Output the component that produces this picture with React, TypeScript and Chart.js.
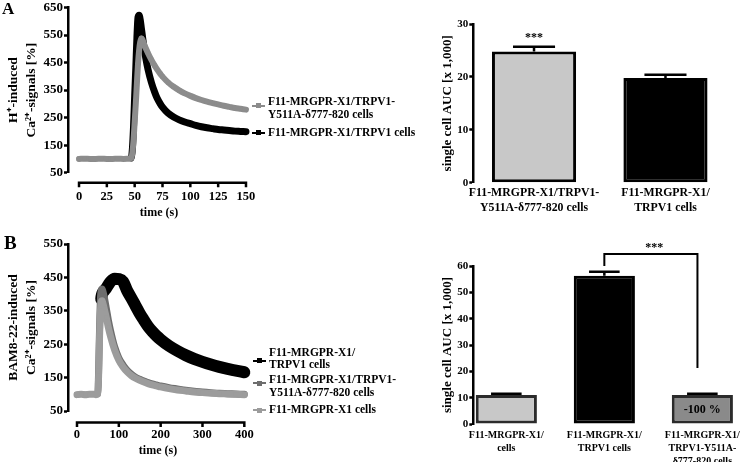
import React, { useEffect, useRef } from "react";
import { Chart, registerables } from "chart.js";
Chart.register(...registerables);

const SERIF = "'Liberation Serif', 'Times New Roman', serif";

// ---------- Panel A: H+-induced Ca2+ signals ----------
const timeA = [0, 5, 10, 15, 20, 25, 30, 35, 40, 45, 47, 48, 49, 50, 51, 52, 53, 54, 55, 56, 57, 58, 60, 62, 65, 68, 70, 73, 75, 80, 85, 90, 95, 100, 105, 110, 115, 120, 125, 130, 135, 140, 145, 150];
const mutantA = [100, 101, 100, 100, 101, 100, 100, 101, 100, 101, 103, 125, 170, 235, 300, 375, 445, 495, 525, 538, 533, 522, 502, 484, 460, 439, 426, 409, 399, 378, 362, 349, 338, 329, 321, 314, 308, 303, 298, 293, 289, 285, 282, 279];
const trpv1A = [100, 100, 101, 100, 100, 101, 100, 100, 101, 102, 104, 140, 220, 330, 430, 540, 615, 622, 605, 575, 545, 515, 465, 425, 378, 342, 322, 300, 288, 266, 252, 242, 234, 228, 222, 217, 213, 210, 207, 205, 203, 201, 200, 199];
const xTicksA = [0, 25, 50, 75, 100, 125, 150];

// ---------- Panel A: AUC bars ----------
const barALabels = [["F11-MRGPR-X1/TRPV1-", "Y511A-δ777-820 cells"], ["F11-MRGPR-X1/", "TRPV1 cells"]];
const barAValues = [24.8, 19.8];
const barAErrors = [0.9, 0.6];

// ---------- Panel B: BAM8-22-induced Ca2+ signals ----------
const timeB = [0, 10, 20, 30, 40, 45, 50, 52, 54, 56, 58, 60, 62, 65, 70, 75, 80, 90, 100, 110, 120, 130, 140, 150, 160, 170, 180, 190, 200, 220, 240, 260, 280, 300, 320, 340, 360, 380, 400];
const trpv1B = [100, 100, 101, 100, 101, 102, 103, 170, 260, 340, 385, 400, 405, 410, 418, 428, 437, 446, 445, 438, 410, 388, 365, 342, 322, 303, 288, 275, 264, 245, 230, 217, 206, 197, 189, 182, 176, 171, 166];
const mutantB = [100, 101, 100, 101, 100, 101, 103, 190, 300, 385, 412, 415, 408, 392, 358, 322, 292, 242, 209, 188, 172, 160, 151, 145, 140, 135, 131, 128, 125, 120, 116, 112, 109, 107, 105, 103, 102, 101, 100];
const controlB = [99, 100, 99, 100, 100, 99, 101, 170, 275, 350, 376, 380, 372, 357, 330, 300, 274, 232, 202, 182, 167, 156, 148, 142, 137, 132, 128, 125, 122, 117, 113, 110, 107, 105, 103, 102, 101, 100, 99];
const xTicksB = [0, 100, 200, 300, 400];

// ---------- Panel B: AUC bars ----------
const barBLabels = [["F11-MRGPR-X1/", "cells"], ["F11-MRGPR-X1/", "TRPV1 cells"], ["F11-MRGPR-X1/", "TRPV1-Y511A-", "δ777-820 cells"]];
const barBValues = [11.0, 56.3, 11.0];
const barBErrors = [0.5, 1.5, 0.5];

const GRAY_A = "#8c8c8c";
const DARK_B = "#6e6e6e";
const LIGHT_B = "#9c9c9c";

const font = (size: number, lineHeight = 1.2) => ({ family: SERIF, size, weight: "bold" as const, lineHeight });

function offsetXAxis(tickValues: number[], gap: number) {
  return {
    id: "offsetXAxis",
    afterDatasetsDraw(chart: any) {
      const ctx = chart.ctx;
      const area = chart.chartArea;
      const xs = chart.scales.x;
      const yy = area.bottom + gap;
      const x0 = xs.getPixelForValue(tickValues[0]);
      const x1 = xs.getPixelForValue(tickValues[tickValues.length - 1]);
      ctx.save();
      ctx.strokeStyle = "#000";
      ctx.lineWidth = 2.5;
      ctx.beginPath();
      ctx.moveTo(x0 - 1.25, yy);
      ctx.lineTo(x1 + 1.25, yy);
      for (const t of tickValues) {
        const px = xs.getPixelForValue(t);
        ctx.moveTo(px, yy);
        ctx.lineTo(px, yy + 4.5);
      }
      ctx.stroke();
      ctx.restore();
    },
  };
}

function errorBars(values: number[], errors: number[]) {
  return {
    id: "errorBars",
    afterDatasetsDraw(chart: any) {
      const { ctx, scales } = chart;
      const meta = chart.getDatasetMeta(0);
      ctx.save();
      ctx.strokeStyle = "#000";
      ctx.lineWidth = 2.5;
      meta.data.forEach((bar: any, i: number) => {
        const top = scales.y.getPixelForValue(values[i] + errors[i]);
        const base = scales.y.getPixelForValue(values[i]);
        const half = bar.width / 4;
        ctx.beginPath();
        ctx.moveTo(bar.x, base);
        ctx.lineTo(bar.x, top);
        ctx.moveTo(bar.x - half, top);
        ctx.lineTo(bar.x + half, top);
        ctx.stroke();
      });
      ctx.restore();
    },
  };
}

type Note = { x: number; y: number; text: string; size: number };
function notes(items: Note[], bracket?: number[][]) {
  return {
    id: "notes",
    afterDatasetsDraw(chart: any) {
      const { ctx, scales } = chart;
      ctx.save();
      if (bracket) {
        ctx.strokeStyle = "#000";
        ctx.lineWidth = 2;
        ctx.beginPath();
        bracket.forEach(([bx, by], i) => {
          const px = scales.x.getPixelForValue(bx);
          const py = scales.y.getPixelForValue(by);
          if (i === 0) ctx.moveTo(px, py);
          else ctx.lineTo(px, py);
        });
        ctx.stroke();
      }
      ctx.fillStyle = "#000";
      ctx.textAlign = "center";
      ctx.textBaseline = "middle";
      items.forEach((n) => {
        ctx.font = `bold ${n.size}px ${SERIF}`;
        ctx.fillText(n.text, scales.x.getPixelForValue(n.x), scales.y.getPixelForValue(n.y));
      });
      ctx.restore();
    },
  };
}

const yAxisCommon = (width: number) => ({
  afterFit: (s: any) => {
    s.width = width;
  },
  grid: { display: true, drawOnChartArea: false, drawTicks: true, tickLength: 4, tickWidth: 2.5, tickColor: "#000" },
  border: { display: true, width: 2.5, color: "#000" },
});

const baseOptions = {
  animation: false,
  responsive: false,
  devicePixelRatio: 1,
};

function lineConfig(
  datasets: any[],
  tickValues: number[],
  xmin: number,
  xmax: number,
  ymin: number,
  ymax: number,
  padding: any,
  yTitle: string[],
  gap: number
) {
  return {
    type: "line",
    data: { datasets },
    options: {
      ...baseOptions,
      layout: { padding },
      plugins: { legend: { display: false }, tooltip: { enabled: false } },
      scales: {
        x: {
          type: "linear",
          min: xmin,
          max: xmax,
          afterBuildTicks: (s: any) => {
            s.ticks = tickValues.map((v) => ({ value: v }));
          },
          afterFit: (s: any) => {
            s.height = 50;
          },
          grid: { display: false, drawTicks: false },
          border: { display: false },
          ticks: { padding: 16.5, font: font(12.5), color: "#000", maxRotation: 0, minRotation: 0, autoSkip: false },
          title: { display: true, text: "time (s)", font: font(12), color: "#000", padding: { top: 0, bottom: 2.5 } },
        },
        y: {
          min: ymin,
          max: ymax,
          ...yAxisCommon(68),
          ticks: { stepSize: 100, font: font(13, 1), color: "#000", padding: 1 },
          title: { display: true, text: yTitle, font: font(13.5, 1.36), color: "#000", padding: { top: 4, bottom: 0 } },
        },
      },
    },
    plugins: [offsetXAxis(tickValues, gap)],
  };
}

function lineDataset(
  times: number[],
  values: number[],
  color: string,
  width: number,
  baseWidth: number,
  riseEnd: number,
  order: number
) {
  return {
    data: times.map((t, i) => ({ x: t, y: values[i] })),
    borderColor: color,
    backgroundColor: color,
    borderWidth: width,
    segment: {
      borderWidth: (c: any) => (c.p0.parsed.x < riseEnd ? baseWidth : width),
    },
    pointStyle: "rect",
    pointRadius: 3,
    pointBorderWidth: 0,
    cubicInterpolationMode: "monotone",
    borderJoinStyle: "round",
    borderCapStyle: "round",
    order,
    clip: false,
  };
}

function barConfig(
  labels: string[][],
  values: number[],
  errors: number[],
  fills: string[],
  borders: string[],
  xmin: number,
  xmax: number,
  ymax: number,
  padding: any,
  labelFont: any,
  labelPad: number,
  xHeight: number,
  barPct: number,
  extra: any
) {
  return {
    type: "bar",
    data: {
      datasets: [
        {
          data: values.map((v, i) => ({ x: i + 1, y: v })),
          backgroundColor: fills,
          borderColor: borders,
          borderWidth: 3,
          borderSkipped: false,
          categoryPercentage: 0.8,
          barPercentage: barPct,
        },
      ],
    },
    options: {
      ...baseOptions,
      layout: { padding },
      plugins: { legend: { display: false }, tooltip: { enabled: false } },
      scales: {
        x: {
          type: "linear",
          offset: false,
          min: xmin,
          max: xmax,
          afterBuildTicks: (s: any) => {
            s.ticks = labels.map((_, i) => ({ value: i + 1 }));
          },
          afterFit: (s: any) => {
            s.height = xHeight;
          },
          grid: { display: false, drawTicks: false, offset: false },
          border: { display: false },
          ticks: {
            callback: (_v: any, i: number) => labels[i],
            font: labelFont,
            color: "#000",
            padding: labelPad,
            maxRotation: 0,
            minRotation: 0,
            autoSkip: false,
          },
        },
        y: {
          min: 0,
          max: ymax,
          ...yAxisCommon(40),
          ticks: { stepSize: 10, font: font(11, 1), color: "#000", padding: 1 },
          title: { display: true, text: "single cell AUC [x 1,000]", font: font(13), color: "#000", padding: { top: 6.5, bottom: 0 } },
        },
      },
    },
    plugins: [errorBars(values, errors), extra],
  };
}

function ChartCanvas({ make }: { make: () => any }) {
  const ref = useRef<HTMLCanvasElement>(null);
  useEffect(() => {
    const chart = new Chart(ref.current as HTMLCanvasElement, make());
    return () => chart.destroy();
  }, []);
  return (
    <canvas
      ref={ref}
      width={745}
      height={464}
      style={{ position: "absolute", left: 0, top: 0, width: 745, height: 464 }}
    />
  );
}

function Marker({ x, y, color }: { x: number; y: number; color: string }) {
  return (
    <>
      <div style={{ position: "absolute", left: x, top: y - 1, width: 13, height: 2, background: color }} />
      <div style={{ position: "absolute", left: x + 4, top: y - 2.5, width: 5, height: 5, background: color }} />
    </>
  );
}

function Text({ x, y, lines, size, lh }: { x: number; y: number; lines: string[]; size: number; lh: number }) {
  return (
    <div
      style={{
        position: "absolute",
        left: x,
        top: y - lh / 2,
        font: `bold ${size}px ${SERIF}`,
        lineHeight: `${lh}px`,
        whiteSpace: "nowrap",
        color: "#000",
      }}
    >
      {lines.map((l, i) => (
        <div key={i}>{l}</div>
      ))}
    </div>
  );
}

export default function App() {
  const makeLineA = () =>
    lineConfig(
      [lineDataset(timeA, mutantA, GRAY_A, 6, 6, 0, 1), lineDataset(timeA, trpv1A, "#000", 7, 4, 47, 2)],
      xTicksA,
      -9.9,
      153.6,
      50,
      650,
      { left: 0, top: 6.7, right: 495, bottom: 241.3 },
      ["H⁺-induced", "Ca²⁺-signals [%]"],
      10
    );
  const makeLineB = () =>
    lineConfig(
      [
        lineDataset(timeB, controlB, LIGHT_B, 7, 7, 0, 1),
        lineDataset(timeB, mutantB, DARK_B, 7, 5, 50, 2),
        lineDataset(timeB, trpv1B, "#000", 12, 4, 58, 3),
      ],
      xTicksB,
      -21.5,
      408.8,
      50,
      550,
      { left: 0, top: 244, right: 497, bottom: 3 },
      ["BAM8-22-induced", "Ca²⁺-signals [%]"],
      11.5
    );
  const makeBarA = () =>
    barConfig(
      barALabels,
      barAValues,
      barAErrors,
      ["#c8c8c8", "#000"],
      ["#000", "#000"],
      0.538,
      2.567,
      30,
      { left: 433.3, top: 24, right: 5, bottom: 241.3 },
      font(11.8, 1.27),
      3,
      40,
      0.8,
      notes([{ x: 1, y: 27.3, text: "***", size: 12 }])
    );
  const makeBarB = () =>
    barConfig(
      barBLabels,
      barBValues,
      barBErrors,
      ["#c8c8c8", "#000", "#8a8a8a"],
      ["#2b2b2b", "#000", "#2b2b2b"],
      0.663,
      3.353,
      60,
      { left: 433.3, top: 266, right: 5, bottom: 2 },
      font(10, 1.3),
      4.5,
      38,
      0.78,
      notes(
        [
          { x: 2.51, y: 66.8, text: "***", size: 12 },
          { x: 3, y: 5.3, text: "-100 %", size: 12 },
        ],
        [
          [2, 60],
          [2, 64.6],
          [2.95, 64.6],
          [2.95, 21.3],
        ]
      )
    );

  return (
    <div style={{ position: "fixed", left: 0, top: 0, width: 745, height: 464, background: "#fff", overflow: "hidden" }}>
      <ChartCanvas make={makeLineA} />
      <ChartCanvas make={makeLineB} />
      <ChartCanvas make={makeBarA} />
      <ChartCanvas make={makeBarB} />

      <div style={{ position: "absolute", left: 2, top: -1, font: `bold 17px ${SERIF}` }}>A</div>
      <div style={{ position: "absolute", left: 4, top: 232, font: `bold 19px ${SERIF}` }}>B</div>

      {/* Legend A */}
      <Marker x={252} y={105.5} color={GRAY_A} />
      <Text x={268} y={101.7} lines={["F11-MRGPR-X1/TRPV1-", "Y511A-δ777-820 cells"]} size={11.5} lh={13.3} />
      <Marker x={252} y={132.7} color="#000" />
      <Text x={268} y={132.7} lines={["F11-MRGPR-X1/TRPV1 cells"]} size={11.5} lh={13.3} />

      {/* Legend B */}
      <Marker x={253} y={360.7} color="#000" />
      <Text x={269} y={352.7} lines={["F11-MRGPR-X1/", "TRPV1 cells"]} size={11.5} lh={11.8} />
      <Marker x={253} y={383.3} color={DARK_B} />
      <Text x={269} y={379.5} lines={["F11-MRGPR-X1/TRPV1-", "Y511A-δ777-820 cells"]} size={11.5} lh={12.2} />
      <Marker x={253} y={410} color={LIGHT_B} />
      <Text x={269} y={409.5} lines={["F11-MRGPR-X1 cells"]} size={11.5} lh={12.2} />
    </div>
  );
}
